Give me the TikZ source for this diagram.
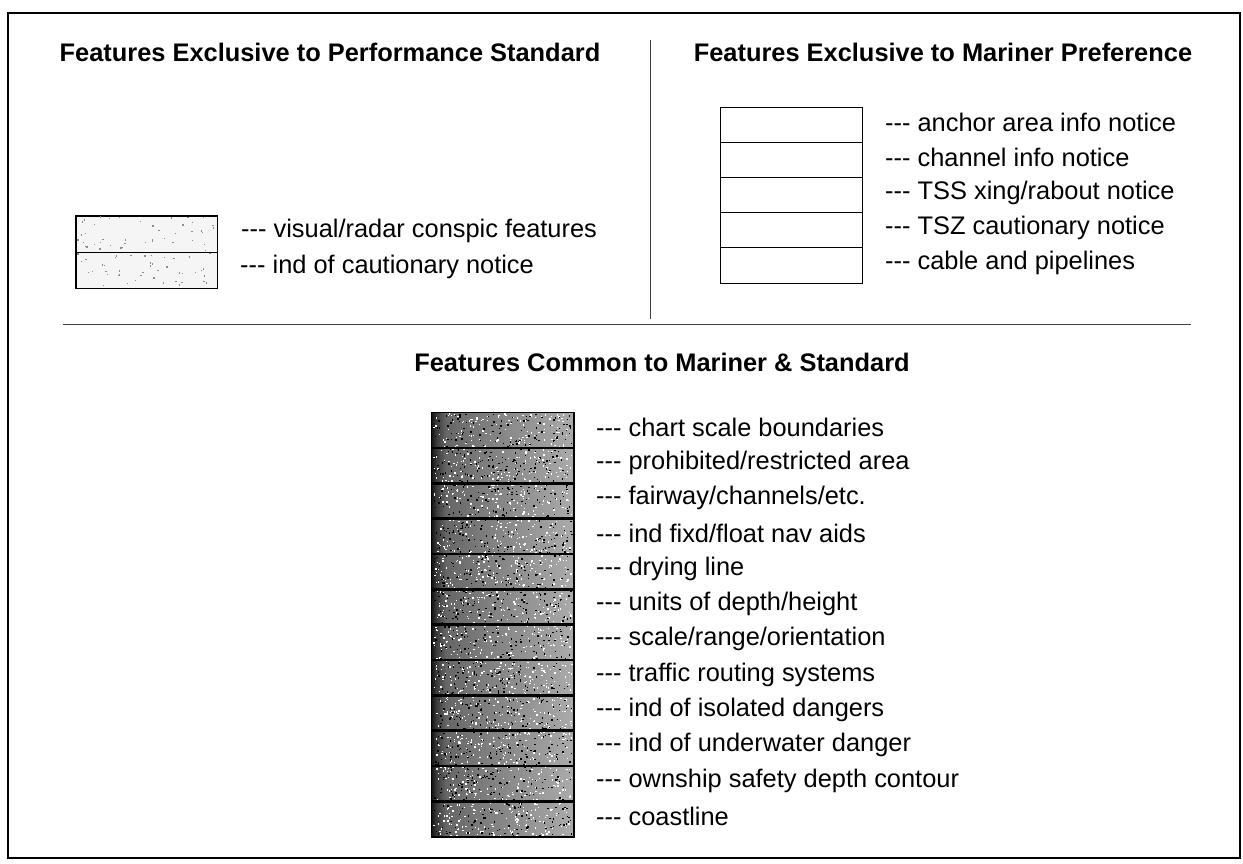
\documentclass[tikz,border=0pt]{standalone}
\usepackage{fontspec}
\setmainfont{Liberation Sans}
\pgfdeclarehorizontalshading{stipple}{100bp}{color(0bp)=(black!92); color(25bp)=(black!92); color(26.5bp)=(black!78); color(30bp)=(black!60); color(45bp)=(black!50); color(75bp)=(black!33); color(100bp)=(black!33)}
\begin{document}
\begin{tikzpicture}[x=1pt,y=-1pt,
  heading/.style={font=\fontsize{25.4}{28}\selectfont\bfseries, inner sep=0pt},
  lbl/.style={font=\fontsize{25.4}{28}\selectfont, anchor=west, inner sep=0pt},
  lightrow/.style={draw, line width=1pt, fill=black!4, minimum width=141pt, minimum height=36pt, inner sep=0pt},
  plainrow/.style={draw, line width=1pt, fill=white, minimum width=141.5pt, minimum height=35.2pt, inner sep=0pt},
  darkrow/.style={draw, line width=1.2pt, shading=stipple, minimum width=141.6pt, minimum height=35.33pt, inner sep=0pt},
  speck/.style={inner sep=0pt, minimum size=1.4pt, rectangle},
  divider/.style={line width=1pt, black!75}]
\useasboundingbox (0,0) rectangle (1243,863);
\fill[white] (0,0) rectangle (1243,863);
\pgfmathsetseed{4242}
% outer frame
\draw[line width=2.2pt] (8,13) rectangle (1240,858);
% dividers
\coordinate (vtop) at (650,40);
\coordinate (vbot) at (650,319);
\draw[divider] (vtop) -- (vbot);
\coordinate (hl) at (63,324);
\coordinate (hr) at (1191,324);
\draw[divider] (hl) -- (hr);
% headings
\node[heading] (h1) at (330,52) {Features Exclusive to Performance Standard};
\node[heading] (h2) at (943,52) {Features Exclusive to Mariner Preference};
\node[heading] (h3) at (662,362) {Features Common to Mariner \& Standard};
% left boxes
\node[lightrow] (p1) at (146.5,234) {};
\node[lightrow] (p2) at (146.5,270) {};
\foreach \k in {1,...,90}{
  \node[speck, fill=black!45] at ({78+137*rnd},{217+69*rnd}) {};
}
\draw[line width=1pt] (p1.north west) rectangle (p2.south east);
\draw[line width=1pt] (p1.south west) -- (p1.south east);
\node[lbl] (pl1) at (241,231) {-{}-{}- visual/radar conspic features};
\node[lbl] (pl2) at (240,267) {-{}-{}- ind of cautionary notice};
% right boxes
\foreach \i/\t in {1/{anchor area info notice},2/{channel info notice},3/{TSS xing/rabout notice},4/{TSZ cautionary notice},5/{cable and pipelines}}{
  \node[plainrow] (m\i) at (791.5,{107+35.2*(\i-0.5)}) {};
  \node[lbl] (ml\i) at (885,{107+35.2*(\i-0.5)-2.5}) {-{}-{}- \t};
}
% common boxes
\foreach \i/\t in {1/{chart scale boundaries},2/{prohibited/restricted area},3/{fairway/channels/etc.},4/{ind fixd/float nav aids},5/{drying line},6/{units of depth/height},7/{scale/range/orientation},8/{traffic routing systems},9/{ind of isolated dangers},10/{ind of underwater danger},11/{ownship safety depth contour},12/{coastline}}{
  \node[darkrow] (c\i) at (502.5,{412.7+35.33*(\i-0.5)}) {};
  \node[lbl] (cl\i) at (596,{412.7+35.33*(\i-0.5)-3}) {-{}-{}- \t};
}
% stipple texture
\foreach \k in {1,...,1700}{
  \node[speck, fill=white] at ({434+138*rnd},{414+422*rnd}) {};
}
\foreach \k in {1,...,1300}{
  \node[speck, fill=black] at ({434+138*rnd},{414+422*rnd}) {};
}
\foreach \i in {1,...,12}{
  \draw[line width=1.2pt] (c\i.north west) rectangle (c\i.south east);
}
\end{tikzpicture}
\end{document}
